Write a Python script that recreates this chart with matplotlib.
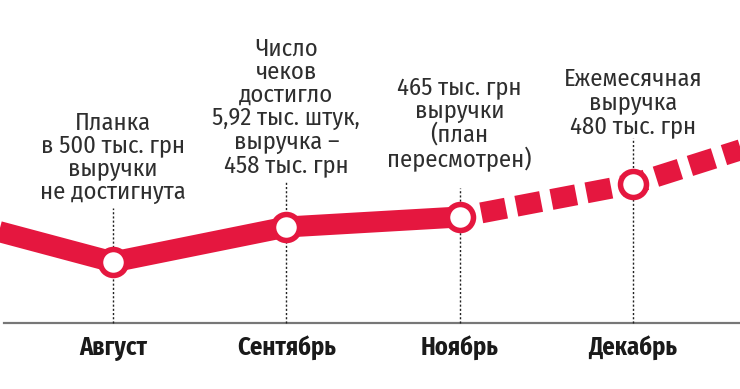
import matplotlib

matplotlib.use("Agg")
import matplotlib.pyplot as plt
from matplotlib import font_manager as fm

# schematic revenue chart, months on x, arbitrary "level" on y
months = ["Август", "Сентябрь", "Ноябрь", "Декабрь"]
month_x = [0, 1, 2, 3]
month_level = [127, 162, 172, 205]

# the line runs in from the left and out to the right of the frame
lead_x, lead_level = -0.8, 164
tail_x, tail_level = 3.8, 249

notes = [
    "Планка\nв 500 тыс. грн\nвыручки\nне достигнута",
    "Число\nчеков\nдостигло\n5,92 тыс. штук,\nвыручка –\n458 тыс. грн",
    "465 тыс. грн\nвыручки\n(план\nпересмотрен)",
    "Ежемесячная\nвыручка\n480 тыс. грн",
]
note_baseline = [190, 217, 222, 256]
guide_top = [181, 207, 201, 251]

RED = "#e5173f"
TEXT = "#2e2e2e"


def pick_family():
    have = {f.name for f in fm.fontManager.ttflist}
    for name in ["Fira Sans Condensed", "Barlow Semi Condensed", "Noto Sans"]:
        if name in have:
            return [name, "DejaVu Sans"]
    return ["DejaVu Sans"]


family = pick_family()

fig = plt.figure(figsize=(7.4, 3.89), dpi=100)
ax = fig.add_axes([0, 0, 1, 1])
ax.set_xlim(-113 / 173.3, (740 - 113) / 173.3)
ax.set_ylim(0, 389)
ax.axis("off")

px = 72 / fig.dpi  # points per pixel
lw = 21 * px

# baseline
ax.axhline(66, xmin=4 / 740, xmax=1, color="#777777", lw=2.2 * px, zorder=1)

# dotted guides
for x, top in zip(month_x, guide_top):
    ax.plot([x, x], [66, top], color="#222222", lw=1.4 * px,
            linestyle=(0, (1.5, 1.5)), zorder=2)

# solid part up to November
solid_x = [lead_x] + month_x[:3]
solid_y = [lead_level] + month_level[:3]
ax.plot(solid_x, solid_y, color=RED, lw=lw, solid_capstyle="butt",
        solid_joinstyle="round", zorder=3)

# dashed forecast part
dash_x = month_x[2:] + [tail_x]
dash_y = month_level[2:] + [tail_level]
ax.plot(dash_x, dash_y, color=RED, lw=lw, linestyle=(0.65, (1.2, 0.5)),
        dash_capstyle="butt", zorder=3)

ax.plot(month_x, month_level, linestyle="none", marker="o",
        markersize=26 * px, markerfacecolor="white", markeredgecolor=RED,
        markeredgewidth=5.5 * px, zorder=4)

for x, note, base in zip(month_x, notes, note_baseline):
    ax.text(x, base, note, ha="center", va="baseline", multialignment="center",
            fontsize=24.5 * px, color=TEXT, family=family, linespacing=1.0)

for x, name in zip(month_x, months):
    ax.text(x, 34, name, ha="center", va="baseline", fontsize=24.5 * px,
            fontweight="bold", color="#1a1a1a", family=family)

fig.savefig("out.png", dpi=100)
plt.close(fig)
